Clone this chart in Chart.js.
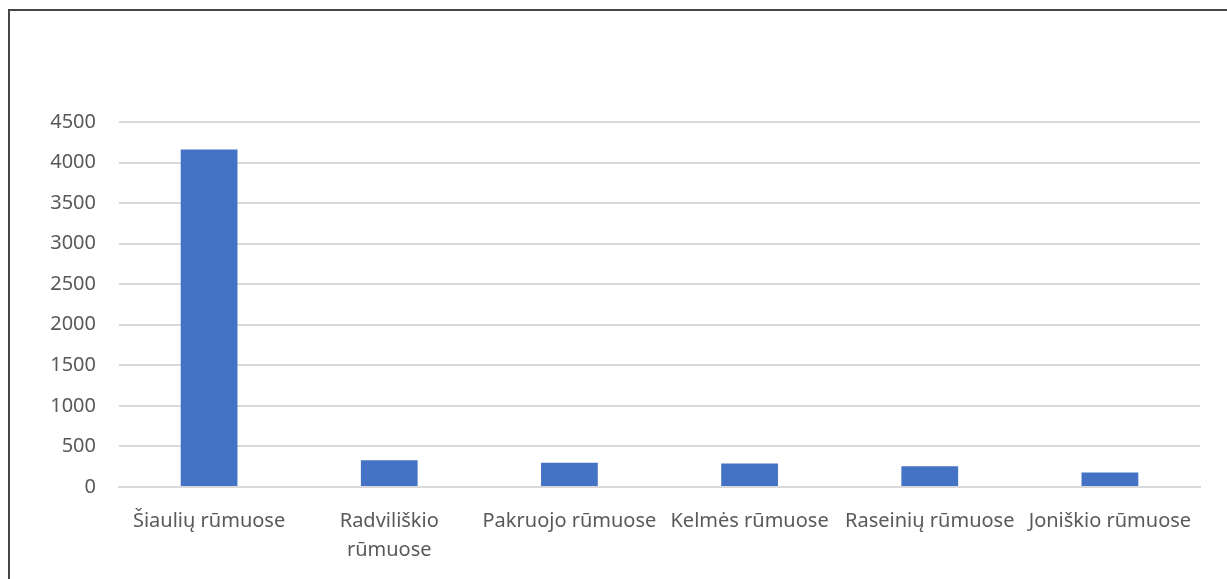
<!DOCTYPE html>
<html>
<head>
<meta charset="utf-8">
<script src="https://cdn.jsdelivr.net/npm/chart.js@4"></script>
<style>
  html, body { margin: 0; padding: 0; background: #fff; }
  #wrap { position: relative; width: 1227px; height: 579px; overflow: hidden; }
  #frame {
    position: absolute; left: 8px; top: 9px; width: 1240px; height: 600px;
    border-left: 2px solid #464646; border-top: 2px solid #464646;
    pointer-events: none;
  }
  canvas { position: absolute; left: 0; top: 0; }
</style>
</head>
<body>
<div id="wrap">
  <canvas id="chart" width="1227" height="579"></canvas>
  <div id="frame"></div>
</div>
<script>
// data
const categories = [
  "Šiaulių rūmuose",
  ["Radviliškio", "rūmuose"],
  "Pakruojo rūmuose",
  "Kelmės rūmuose",
  "Raseinių rūmuose",
  "Joniškio rūmuose",
];
const values = [4160, 330, 298, 290, 257, 178];
const yTicks = [0, 500, 1000, 1500, 2000, 2500, 3000, 3500, 4000, 4500];

const BLUE  = "#4472c4";
const TEXT  = "#595959";
const GRID  = "#d9d9d9";
const FONT  = "'Noto Sans', 'Open Sans', sans-serif";

new Chart(document.getElementById("chart"), {
  type: "bar",
  data: {
    labels: categories,
    datasets: [{
      data: values,
      backgroundColor: BLUE,
      borderWidth: 0,
      barPercentage: 0.315,
      categoryPercentage: 1,
    }]
  },
  options: {
    responsive: false,
    animation: false,
    layout: { padding: { left: 0, right: 27, top: 122, bottom: 0 } },
    plugins: { legend: { display: false }, tooltip: { enabled: false } },
    scales: {
      x: {
        grid: { display: false },
        border: { display: true, color: GRID, width: 2 },
        ticks: { color: TEXT, font: { family: FONT, size: 20, lineHeight: 1.45 }, padding: 12, maxRotation: 0, autoSkip: false },
        afterFit: s => { s.height = 579 - 487; }
      },
      y: {
        min: 0, max: 4500,
        afterBuildTicks: s => { s.ticks = yTicks.map(v => ({ value: v })); },
        grid: { color: GRID, lineWidth: 2, drawTicks: false },
        border: { display: false },
        ticks: { color: TEXT, font: { family: FONT, size: 20 }, padding: 23, callback: v => String(v) },
        afterFit: s => { s.width = 119; }
      }
    }
  }
});
</script>
</body>
</html>
